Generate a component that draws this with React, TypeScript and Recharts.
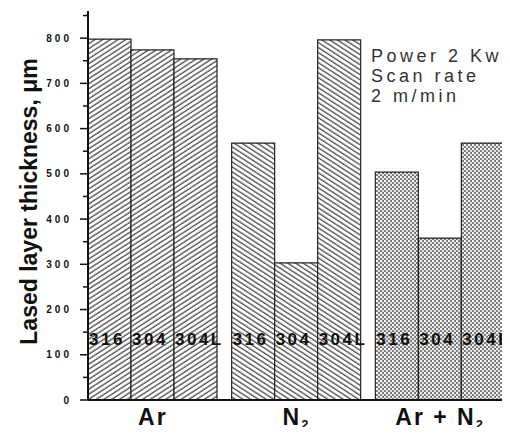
import React from "react";
import { BarChart, Bar, XAxis, YAxis, Cell, LabelList } from "recharts";

// gas atmosphere groups and steel grades
const gases = ["Ar", "N2", "Ar + N2"];
const grades = ["316", "304", "304L"];

// lased layer thickness (µm)
const steel316 = [798, 568, 504];
const steel304 = [774, 303, 358];
const steel304L = [754, 796, 568];

const yTicks = [0, 50, 100, 150, 200, 250, 300, 350, 400, 450, 500, 550, 600, 650, 700, 750, 800, 850];

const fillByGas = ["url(#hatchUp)", "url(#hatchDown)", "url(#dots)"];
const font = "'Liberation Sans', Arial, sans-serif";

const data = gases.map((gas, i) => ({
  gas,
  s316: steel316[i],
  s304: steel304[i],
  s304L: steel304L[i],
}));

function YTick(props: any) {
  const { x, y, payload } = props;
  const major = payload.value % 100 === 0;
  return (
    <g>
      <line x1={major ? x : x + 3} x2={x + 8} y1={y} y2={y} stroke="#111" strokeWidth={1.5} />
      {major && (
        <text
          x={x - 8}
          y={y}
          dy={3.5}
          textAnchor="end"
          fontFamily={font}
          fontSize={10}
          fontWeight="bold"
          letterSpacing={3}
          fill="#111"
        >
          {payload.value}
        </text>
      )}
    </g>
  );
}

function XTick(props: any) {
  const { x, y, payload } = props;
  const v: string = payload.value;
  const sub = v.endsWith("N2");
  const main = sub ? v.slice(0, -1) : v;
  return (
    <text
      x={x}
      y={y}
      dy={25}
      textAnchor="middle"
      fontFamily={font}
      fontSize={23}
      fontWeight="bold"
      letterSpacing={2}
      fill="#111"
    >
      {main}
      {sub && (
        <tspan fontSize={13} dy={4}>
          2
        </tspan>
      )}
    </text>
  );
}

const gradeLabel = (name: string) => (props: any) => {
  const x = Number(props.x);
  const bottom = Number(props.y) + Number(props.height);
  return (
    <text
      x={x + 1}
      y={bottom - 55}
      fontFamily={font}
      fontSize={17}
      fontWeight="bold"
      letterSpacing={2.5}
      fill="#111"
    >
      {name}
    </text>
  );
};

function YLabel(props: any) {
  const vb = props.viewBox || {};
  const cy = vb.y + vb.height / 2 - 4;
  return (
    <text
      transform={`translate(37,${cy}) rotate(-90)`}
      textAnchor="middle"
      fontFamily={font}
      fontSize={23}
      fontWeight="bold"
      fill="#111"
    >
      Lased layer thickness, μm
    </text>
  );
}

export default function App() {
  const series = [
    { key: "s316", name: grades[0] },
    { key: "s304", name: grades[1] },
    { key: "s304L", name: grades[2] },
  ];
  return (
    <div style={{ position: "relative", width: 510, height: 435, margin: -8, background: "#fff" }}>
      <BarChart
        width={510}
        height={435}
        data={data}
        margin={{ top: 11, right: 5, bottom: 0, left: 0 }}
        barCategoryGap={7}
        barGap={0}
      >
        <defs>
          <pattern id="hatchUp" width="5" height="4.2" patternUnits="userSpaceOnUse" patternTransform="rotate(-33)">
            <rect width="5" height="4.2" fill="#fff" />
            <line x1="0" y1="1" x2="5" y2="1" stroke="#555" strokeWidth="1.4" />
          </pattern>
          <pattern id="hatchDown" width="5" height="4.2" patternUnits="userSpaceOnUse" patternTransform="rotate(33)">
            <rect width="5" height="4.2" fill="#fff" />
            <line x1="0" y1="1" x2="5" y2="1" stroke="#555" strokeWidth="1.4" />
          </pattern>
          <pattern id="dots" width="4" height="4" patternUnits="userSpaceOnUse">
            <rect width="4" height="4" fill="#707070" />
            <circle cx="1" cy="1" r="1.3" fill="#f2f2f2" />
            <circle cx="3" cy="3" r="1.3" fill="#e0e0e0" />
          </pattern>
        </defs>
        <XAxis
          dataKey="gas"
          height={35}
          padding={{ left: -7, right: -7 }}
          tick={<XTick />}
          tickLine={false}
          tickSize={0}
          tickMargin={0}
          axisLine={{ stroke: "#111", strokeWidth: 2 }}
        />
        <XAxis
          xAxisId="top"
          dataKey="gas"
          orientation="top"
          height={0}
          tick={false}
          tickLine={false}
          axisLine={{ stroke: "#555", strokeWidth: 1.5 }}
        />
        <YAxis
          width={88}
          domain={[0, 860]}
          ticks={yTicks}
          interval={0}
          tick={<YTick />}
          tickLine={false}
          tickSize={8}
          tickMargin={0}
          axisLine={{ stroke: "#111", strokeWidth: 2 }}
          label={<YLabel />}
        />
        <YAxis
          yAxisId="right"
          orientation="right"
          width={0}
          tick={false}
          tickLine={false}
          axisLine={{ stroke: "#555", strokeWidth: 1.5 }}
        />
        {series.map((s) => (
          <Bar key={s.key} dataKey={s.key} stroke="#222" strokeWidth={1.2} isAnimationActive={false}>
            {data.map((d, i) => (
              <Cell key={d.gas} fill={fillByGas[i]} />
            ))}
            <LabelList dataKey={s.key} content={gradeLabel(s.name)} />
          </Bar>
        ))}
      </BarChart>
      <div
        style={{
          position: "absolute",
          left: 371,
          top: 46,
          fontFamily: font,
          fontSize: 18,
          lineHeight: "20px",
          letterSpacing: 3.5,
          color: "#333",
          whiteSpace: "nowrap",
        }}
      >
        <div>Power 2 Kw</div>
        <div>Scan rate</div>
        <div>2 m/min</div>
      </div>
    </div>
  );
}
